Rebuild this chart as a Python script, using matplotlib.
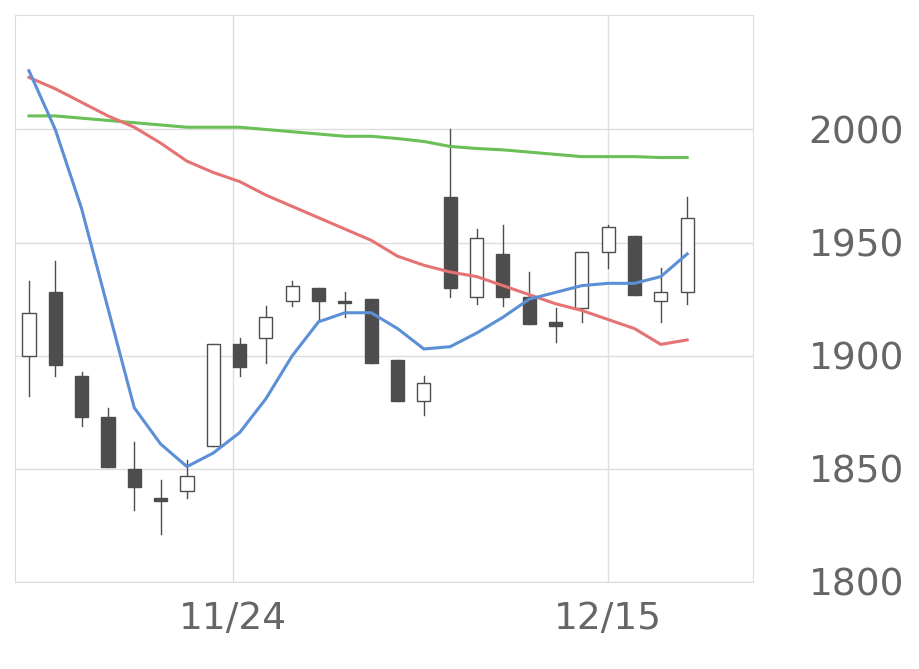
import matplotlib
matplotlib.use("Agg")
import matplotlib.pyplot as plt

opens  = [1900,1928,1891,1873,1850,1837,1840,1860,1905,1908,1924,1930,1924,1925,1898,1880,1970,1926,1945,1926,1915,1921,1946,1953,1924,1928]
closes = [1919,1896,1873,1851,1842,1836,1847,1905,1895,1917,1931,1924,1923.5,1897,1880,1888,1930,1952,1926,1914,1913,1946,1957,1927,1928,1961]
highs  = [1933,1942,1893,1877,1862,1845,1854,1905,1908,1922,1933,1930,1928,1925,1898,1891,2000,1956,1958,1937,1921,1946,1958,1953,1939,1970]
lows   = [1882,1891,1869,1851,1832,1821,1837,1860,1891,1897,1922,1916,1917,1897,1880,1874,1926,1923,1922,1914,1906,1915,1939,1927,1915,1923]
ma_blue  = [2026,2000,1965,1921,1877,1861,1851,1857,1866,1881,1900,1915,1919,1919,1912,1903,1904,1910,1917,1925,1928,1931,1932,1932,1935,1945]
ma_red   = [2023,2018,2012,2006,2001,1994,1986,1981,1977,1971,1966,1961,1956,1951,1944,1940,1937,1935,1931,1927,1923,1920,1916,1912,1905,1907]
ma_green = [2006,2006,2005,2004,2003,2002,2001,2001,2001,2000,1999,1998,1997,1997,1996,1994.7,1992.5,1991.6,1991,1990,1989,1988,1988,1988,1987.6,1987.6]
xtick_pos = [7.76, 21.98]
xtick_labels = ["11/24", "12/15"]
yticks = [1800, 1850, 1900, 1950, 2000]

fig = plt.figure(figsize=(9.2, 6.69), dpi=100)
ax = fig.add_axes([15/920, 87/669, 738/920, 567/669])
dark = "#4d4d4d"
w = 0.5
for i, (o, c, h, l) in enumerate(zip(opens, closes, highs, lows)):
    ax.plot([i, i], [l, h], color=dark, lw=1, zorder=2)
    bottom = min(o, c)
    height = max(abs(c - o), 0.6)
    fc = "white" if c > o else dark
    ax.bar(i, height, bottom=bottom, width=w, facecolor=fc, edgecolor=dark, lw=1, zorder=3)
x = list(range(len(opens)))
ax.plot(x, ma_green, color="#6bbf59", lw=2.2, zorder=4)
ax.plot(x, ma_red, color="#e57373", lw=2.2, zorder=4)
ax.plot(x, ma_blue, color="#5b8fd6", lw=2.2, zorder=4)

ax.set_xlim(-0.53, 27.5)
ax.set_ylim(1800, 2050.6)
ax.set_xticks(xtick_pos)
ax.set_xticklabels(xtick_labels)
ax.set_yticks(yticks)
ax.yaxis.tick_right()
ax.grid(True, color="#dddddd", lw=1)
ax.set_axisbelow(True)
ax.tick_params(length=0, labelsize=27, labelcolor="#666666")
ax.tick_params(axis="y", pad=40)
ax.tick_params(axis="x", pad=14)
for s in ax.spines.values():
    s.set_color("#dddddd")
fig.savefig("out.png", dpi=100)
